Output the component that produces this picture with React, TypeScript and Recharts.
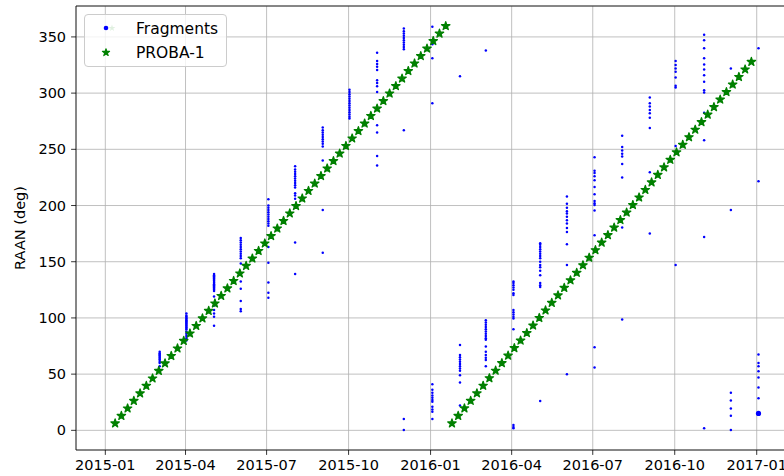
import React from 'react';
import { ScatterChart, Scatter, XAxis, YAxis, CartesianGrid, ReferenceLine } from 'recharts';

const FONT = '"DejaVu Sans", sans-serif';

// ---- data ----
const X_TICK_LABELS = ['2015-01', '2015-04', '2015-07', '2015-10', '2016-01', '2016-04', '2016-07', '2016-10', '2017-01'];
const Y_TICKS = [0, 50, 100, 150, 200, 250, 300, 350];

const PROBA_DATES = [
  '2015-01-12', '2015-01-19', '2015-01-26', '2015-02-02', '2015-02-09', '2015-02-16', '2015-02-23',
  '2015-03-02', '2015-03-09', '2015-03-16', '2015-03-23', '2015-03-30', '2015-04-06', '2015-04-13',
  '2015-04-20', '2015-04-27', '2015-05-04', '2015-05-11', '2015-05-18', '2015-05-25', '2015-06-01',
  '2015-06-08', '2015-06-15', '2015-06-22', '2015-06-29', '2015-07-06', '2015-07-13', '2015-07-20',
  '2015-07-27', '2015-08-03', '2015-08-10', '2015-08-17', '2015-08-24', '2015-08-31', '2015-09-07',
  '2015-09-14', '2015-09-21', '2015-09-28', '2015-10-05', '2015-10-12', '2015-10-19', '2015-10-26',
  '2015-11-02', '2015-11-09', '2015-11-16', '2015-11-23', '2015-11-30', '2015-12-07', '2015-12-14',
  '2015-12-21', '2015-12-28', '2016-01-04', '2016-01-11', '2016-01-18',
  '2016-01-25', '2016-02-01', '2016-02-08', '2016-02-15', '2016-02-22', '2016-02-29', '2016-03-07',
  '2016-03-14', '2016-03-21', '2016-03-28', '2016-04-04', '2016-04-11', '2016-04-18', '2016-04-25',
  '2016-05-02', '2016-05-09', '2016-05-16', '2016-05-23', '2016-05-30', '2016-06-06', '2016-06-13',
  '2016-06-20', '2016-06-27', '2016-07-04', '2016-07-11', '2016-07-18', '2016-07-25', '2016-08-01',
  '2016-08-08', '2016-08-15', '2016-08-22', '2016-08-29', '2016-09-05', '2016-09-12', '2016-09-19',
  '2016-09-26', '2016-10-03', '2016-10-10', '2016-10-17', '2016-10-24', '2016-10-31', '2016-11-07',
  '2016-11-14', '2016-11-21', '2016-11-28', '2016-12-05', '2016-12-12', '2016-12-19', '2016-12-26',
];

const PROBA_RAAN = [
  6.2, 12.9, 19.5, 26.2, 32.9, 39.6, 46.2, 52.9, 59.6, 66.2, 72.9, 79.6, 86.2, 92.9, 99.6, 106.3,
  112.9, 119.6, 126.3, 132.9, 139.6, 146.3, 152.9, 159.6, 166.3, 172.9, 179.6, 186.3, 193.0, 199.6,
  206.3, 213.0, 219.6, 226.3, 233.0, 239.6, 246.3, 253.0, 259.7, 266.3, 273.0, 279.7, 286.3, 293.0,
  299.7, 306.3, 313.0, 319.7, 326.4, 333.0, 339.7, 346.4, 353.0, 359.7,
  6.2, 12.9, 19.6, 26.3, 33.0, 39.7, 46.4, 53.1, 59.8, 66.5, 73.2, 79.9, 86.6, 93.3, 100.0, 106.7,
  113.4, 120.1, 126.8, 133.5, 140.2, 146.9, 153.6, 160.3, 167.0, 173.7, 180.4, 187.1, 193.8, 200.5,
  207.2, 213.9, 220.6, 227.3, 234.0, 240.7, 247.4, 254.1, 260.8, 267.5, 274.2, 280.9, 287.6, 294.3,
  301.0, 307.7, 314.4, 321.1, 327.8,
];

const FRAG_DATES = [
  '2015-03-03', '2015-04-02', '2015-05-03', '2015-06-02', '2015-07-03', '2015-08-02', '2015-09-02',
  '2015-10-02', '2015-11-02', '2015-12-02', '2016-01-03', '2016-02-03', '2016-03-03', '2016-04-03',
  '2016-05-03', '2016-06-02', '2016-07-03', '2016-08-03', '2016-09-03', '2016-10-02', '2016-11-03',
  '2016-12-03', '2017-01-03',
];

const FRAG_RAAN = [
  [70, 68.5, 67.5, 66.5, 65.5, 64.5, 63.5, 62.5, 61, 60, 57],
  [104, 102, 101, 100, 99, 98, 97, 96, 95, 94, 93, 92, 91, 90, 88, 86, 84, 82, 80],
  [139, 138, 137, 136, 135, 134, 133, 132, 131, 130, 129, 128, 127, 126, 125, 124, 119, 111, 107, 104, 101, 93],
  [171, 169, 167, 165, 163, 161, 159, 157, 155, 153, 148.5, 139, 132.5, 126, 115, 108, 106],
  [205.5, 200, 198, 196, 194, 192, 190, 188, 186, 184, 182, 163, 149, 131.5, 122.5, 118],
  [235, 232, 230, 228, 226, 224, 222, 220, 218, 216, 211, 209, 206, 167, 139],
  [269.5, 267, 265, 263, 261, 259, 257, 255, 252.5, 240, 196, 158],
  [303, 301, 299, 297, 295, 293, 291, 289, 287, 285, 283, 281, 279, 277.5],
  [336, 328.5, 326, 323.5, 320.5, 311.5, 309, 306, 301, 271.5, 265, 244, 235.5],
  [357.5, 355, 353, 351, 349, 347, 345, 343, 341, 339, 267, 10, 0.3],
  [359, 343.5, 331, 291, 41, 36, 33.5, 31, 29, 27, 25.5, 21, 18.5, 16.5, 10],
  [315, 76, 67, 65, 63, 61, 59, 57, 55, 53, 49, 42.5, 22],
  [338, 98, 96, 94, 92, 90, 88, 86, 84, 82, 80.5, 74.5, 70, 67, 64.5, 62.5, 57],
  [132.5, 131, 129, 127, 125, 122, 120.5, 107, 105, 103, 101, 99.5, 90, 4.7, 3, 1.8],
  [166.5, 165, 163, 161, 159, 157, 155, 153, 150, 147, 145, 142, 138, 131, 129, 127.5, 26],
  [208, 201.5, 198, 195, 193, 190, 187, 184, 180, 176.5, 165.5, 147, 50],
  [243, 231, 229, 226, 222.5, 216.5, 210, 204, 202, 200.5, 195.5, 173.5, 74, 56],
  [262, 252, 249, 246, 243.5, 237, 225, 180.5, 98.5],
  [296, 291, 288, 285, 282, 278, 269, 229.5, 175],
  [328.5, 325, 322, 319, 314, 306.5, 305, 253, 147],
  [352, 347, 340, 331, 325.5, 321, 316, 310, 302.5, 300.5, 282.5, 258, 172, 1.8],
  [322, 196, 33.5, 26.5, 19.5, 13, 0.3],
  [340, 221.5, 67.5, 60, 57, 52.5, 47, 38, 28.5, 15],
];

// one heavier-looking fragment blob
const FRAG_LARGE_DATES = ['2017-01-03'];
const FRAG_LARGE_RAAN = [15];

// ---- helpers ----
const EPOCH = Date.parse('2015-01-01T00:00:00Z');
const toDay = (iso: string) => (Date.parse(iso + 'T00:00:00Z') - EPOCH) / 86400000;

const xTicks = X_TICK_LABELS.map((l) => toDay(l + '-01'));
const xTickLabel: Record<number, string> = {};
X_TICK_LABELS.forEach((l, i) => (xTickLabel[xTicks[i]] = l));

const probaData = PROBA_DATES.map((d, i) => ({ x: toDay(d), y: PROBA_RAAN[i] }));
const fragData = FRAG_DATES.flatMap((d, i) => FRAG_RAAN[i].map((v) => ({ x: toDay(d), y: v })));
const fragLargeData = FRAG_LARGE_DATES.map((d, i) => ({ x: toDay(d), y: FRAG_LARGE_RAAN[i] }));

const X_DOMAIN = [-32.9, 800];
const Y_DOMAIN = [-17.5, 377.5];

function starPath(cx: number, cy: number, R: number) {
  const r = R * 0.381966;
  let d = '';
  for (let i = 0; i < 10; i++) {
    const rad = i % 2 === 0 ? R : r;
    const a = -Math.PI / 2 + (i * Math.PI) / 5;
    d += (i === 0 ? 'M' : 'L') + (cx + rad * Math.cos(a)).toFixed(2) + ',' + (cy + rad * Math.sin(a)).toFixed(2);
  }
  return d + 'Z';
}

const StarShape = (p: any) => (
  <path d={starPath(p.cx, p.cy, 4.4)} fill="#008000" stroke="#008000" strokeWidth={1.3} strokeLinejoin="round" />
);
const DotShape = (p: any) => <circle cx={p.cx} cy={p.cy} r={1.25} fill="#0000ff" />;
const BigDotShape = (p: any) => <circle cx={p.cx} cy={p.cy} r={2.6} fill="#0000ff" />;

const tickStyle = { fill: '#000', fontSize: 14.5, fontFamily: FONT };

const YLabel = (props: any) => {
  const vb = props.viewBox || {};
  const cy = (vb.y || 0) + (vb.height || 0) / 2;
  const x = 25;
  return (
    <text x={x} y={cy} transform={`rotate(-90, ${x}, ${cy})`} textAnchor="middle" fontSize={14.5} fontFamily={FONT} fill="#000">
      RAAN (deg)
    </text>
  );
};

function LegendBox() {
  return (
    <div
      style={{
        position: 'absolute',
        left: 84,
        top: 14,
        width: 141,
        height: 51,
        border: '1px solid #cccccc',
        borderRadius: 4,
        background: 'rgba(255,255,255,0.8)',
      }}
    >
      <svg width={141} height={51} style={{ display: 'block' }}>
        <path d={starPath(27, 13, 3.6)} fill="#008000" opacity={0.12} />
        <circle cx={21} cy={13} r={2.3} fill="#0000ff" />
        <text x={51} y={18.5} fontSize={15.5} fontFamily={FONT} fill="#000">Fragments</text>
        <path d={starPath(21, 37.5, 3.8)} fill="#008000" stroke="#008000" strokeWidth={1.1} strokeLinejoin="round" />
        <text x={51} y={43} fontSize={15.5} fontFamily={FONT} fill="#000">PROBA-1</text>
      </svg>
    </div>
  );
}

export default function App() {
  return (
    <div style={{ position: 'fixed', left: 0, top: 0, width: 784, height: 476, overflow: 'hidden', background: '#fff' }}>
      <ScatterChart width={830} height={476} margin={{ top: 6, right: 11.8, bottom: 0, left: 0 }}>
        <CartesianGrid stroke="#b0b0b0" strokeWidth={0.8} />
        <XAxis
          type="number"
          dataKey="x"
          domain={X_DOMAIN}
          allowDataOverflow
          ticks={xTicks}
          interval={0}
          tickFormatter={(v: number) => xTickLabel[v] ?? ''}
          tick={tickStyle}
          tickLine={{ stroke: '#000', strokeWidth: 0.8 }}
          axisLine={{ stroke: '#000', strokeWidth: 0.8 }}
          tickSize={4.9}
          tickMargin={5}
          height={26}
        />
        <YAxis
          type="number"
          dataKey="y"
          domain={Y_DOMAIN}
          allowDataOverflow
          ticks={Y_TICKS}
          interval={0}
          tick={tickStyle}
          tickLine={{ stroke: '#000', strokeWidth: 0.8 }}
          axisLine={{ stroke: '#000', strokeWidth: 0.8 }}
          tickSize={4.9}
          tickMargin={5}
          width={76}
          label={<YLabel />}
        />
        <ReferenceLine y={Y_DOMAIN[1]} stroke="#000" strokeWidth={0.8} />
        <Scatter name="Fragments" data={fragData} shape={DotShape} isAnimationActive={false} />
        <Scatter name="Fragments large" data={fragLargeData} shape={BigDotShape} isAnimationActive={false} />
        <Scatter name="PROBA-1" data={probaData} shape={StarShape} isAnimationActive={false} />
      </ScatterChart>
      <LegendBox />
    </div>
  );
}
